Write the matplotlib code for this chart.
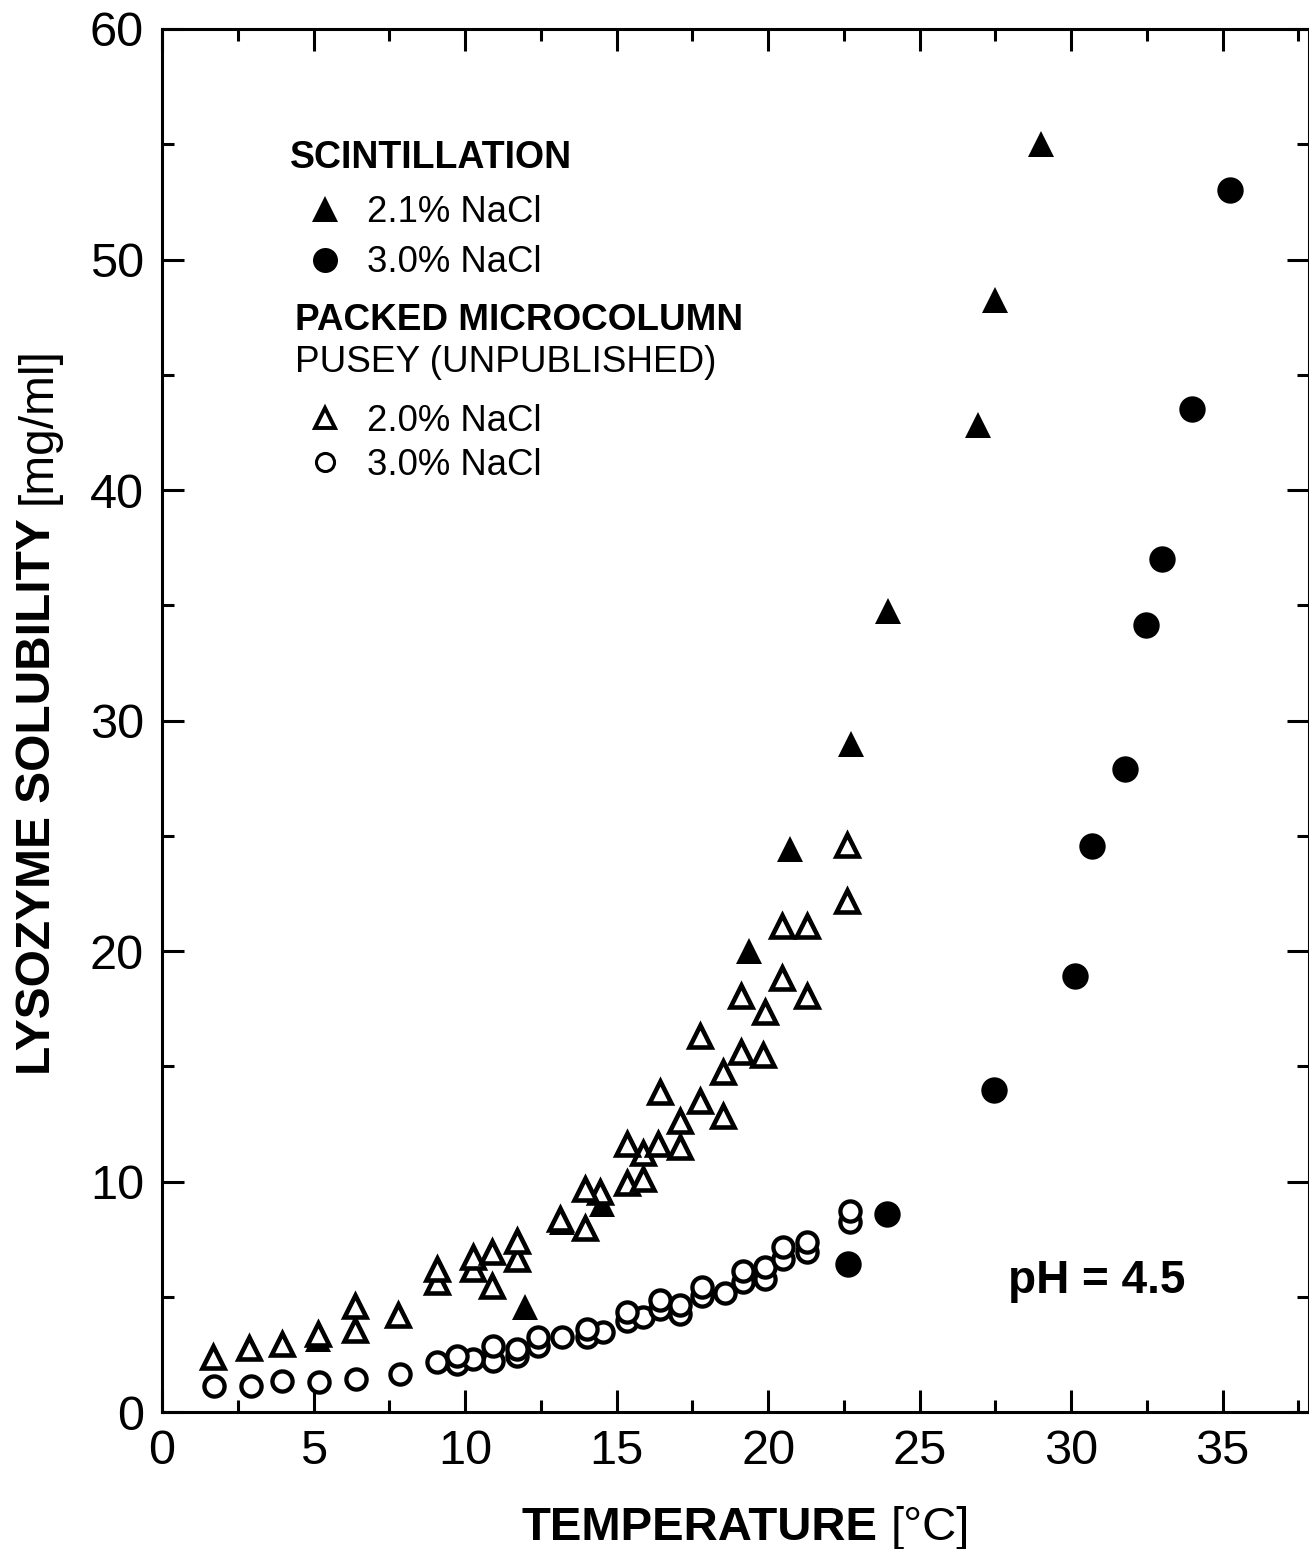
import numpy as np
import matplotlib
matplotlib.use("Agg")
import matplotlib.pyplot as plt
from matplotlib.lines import Line2D
from matplotlib.ticker import MultipleLocator

plt.rcParams["font.family"] = ["Liberation Sans", "DejaVu Sans"]

# scintillation, 2.1% NaCl (filled triangles)
scint21_t = [5.15, 11.98, 13.2, 14.52, 19.37, 20.73, 22.74, 23.96, 26.93, 27.49, 29.0]
scint21_s = [3.17, 4.56, 8.24, 9.02, 20.0, 24.42, 28.98, 34.75, 42.82, 48.24, 55.0]

# scintillation, 3.0% NaCl (filled circles)
scint30_t = [22.64, 23.93, 27.46, 30.13, 30.69, 31.78, 32.48, 33.0, 33.99, 35.25]
scint30_s = [6.42, 8.59, 13.97, 18.92, 24.56, 27.9, 34.14, 37.0, 43.51, 53.0]

# packed microcolumn, 2.0% NaCl (open triangles)
col20_t = [1.68, 2.87, 3.96, 5.15, 6.37, 6.37, 7.79, 9.08, 9.08, 10.26, 10.26,
           10.89, 10.89, 11.72, 11.72, 13.14, 13.96, 13.96, 14.46, 15.35, 15.87,
           16.37, 17.1, 15.35, 15.87, 16.44, 17.76, 18.51, 17.1, 18.51, 17.76,
           19.11, 19.83, 19.11, 19.9, 21.29, 20.46, 20.46, 21.29, 22.61, 22.61]
col20_s = [2.39, 2.78, 2.95, 3.38, 4.6, 3.56, 4.21, 6.2, 5.64, 6.72, 6.2,
           6.94, 5.47, 7.42, 6.64, 8.37, 9.67, 7.98, 9.54, 11.63, 11.24,
           11.63, 11.5, 9.93, 10.1, 13.88, 13.49, 12.84, 12.62, 14.75, 16.31,
           15.62, 15.49, 18.05, 17.35, 18.05, 18.83, 21.08, 21.08, 22.17, 24.6]

# packed microcolumn, 3.0% NaCl (open circles)
col30_t = [1.72, 2.94, 3.96, 5.18, 6.4, 7.85, 9.08, 9.74, 9.74, 10.26, 10.92,
           10.92, 11.72, 11.72, 12.41, 12.41, 13.2, 14.03, 14.03, 14.55, 15.35,
           15.35, 15.87, 16.44, 16.44, 17.1, 17.1, 17.82, 17.82, 18.58, 19.17,
           19.17, 19.9, 19.9, 20.5, 20.5, 21.29, 21.29, 22.7, 22.7]
col30_s = [1.13, 1.13, 1.34, 1.3, 1.43, 1.65, 2.17, 2.43, 2.08, 2.3, 2.86,
           2.21, 2.73, 2.43, 3.25, 2.86, 3.25, 3.6, 3.25, 3.47, 4.34,
           3.95, 4.12, 4.86, 4.47, 4.64, 4.25, 5.42, 5.03, 5.16, 6.12,
           5.64, 6.29, 5.77, 7.16, 6.64, 7.38, 6.94, 8.72, 8.24]

W, H = 1309, 1549


def fx(px):
    return px / W


def fy(py):
    return 1 - py / H


fig = plt.figure(figsize=(W / 100, H / 100), dpi=100)
ax = fig.add_axes([fx(162), fy(1412), fx(1309) - fx(162), fy(29) - fy(1412)])

ax.plot(scint21_t, scint21_s, ls="none", marker="^", ms=19, mfc="black",
        mec="black", mew=0, zorder=2)
ax.plot(scint30_t, scint30_s, ls="none", marker="o", ms=19, mfc="black",
        mec="black", mew=0, zorder=2)

# higher points drawn last so they sit on top, as in the original
o = np.argsort(col20_s)
ax.plot(np.array(col20_t)[o], np.array(col20_s)[o], ls="none", marker="^",
        ms=16, mfc="white", mec="black", mew=3.3, zorder=3)
o = np.argsort(col30_s)
ax.plot(np.array(col30_t)[o], np.array(col30_s)[o], ls="none", marker="o",
        ms=14.5, mfc="white", mec="black", mew=3.1, zorder=3)

ax.set_xlim(0, 37.85)
ax.set_ylim(0, 60)
ax.xaxis.set_major_locator(MultipleLocator(5))
ax.xaxis.set_minor_locator(MultipleLocator(2.5))
ax.yaxis.set_major_locator(MultipleLocator(10))
ax.yaxis.set_minor_locator(MultipleLocator(5))
ax.tick_params(which="both", direction="in", top=True, right=True, width=2.2,
               labelsize=35)
ax.tick_params(which="major", length=16)
ax.tick_params(which="minor", length=8.6)
ax.tick_params(axis="x", pad=12)
ax.tick_params(axis="y", pad=13)
for s in ax.spines.values():
    s.set_linewidth(2.2)

# axis titles: bold name followed by regular unit
xt = fig.text(fx(877), fy(1540), "TEMPERATURE", fontsize=34, weight="bold",
              ha="right", va="baseline")
ax.annotate("[°C]", xy=(1, fy(1540)), xycoords=(xt, "figure fraction"),
            xytext=(10, 0), textcoords="offset points", fontsize=34,
            ha="left", va="baseline")

yt = fig.text(fx(38), fy(1075), "LYSOZYME SOLUBILITY", fontsize=34.5,
              weight="bold", rotation=90, ha="center", va="bottom")
ax.annotate("[mg/ml]", xy=(fx(38), 1), xycoords=("figure fraction", yt),
            xytext=(0, 10), textcoords="offset points", fontsize=34.5,
            rotation=90, ha="center", va="bottom")

# legend
fig.text(fx(290), fy(158), "SCINTILLATION", fontsize=27, weight="bold",
         ha="left", va="center")
fig.text(fx(295), fy(320), "PACKED MICROCOLUMN", fontsize=26.6, weight="bold",
         ha="left", va="center")
fig.text(fx(295), fy(363), "PUSEY (UNPUBLISHED)", fontsize=26.6,
         ha="left", va="center")

h1 = [Line2D([], [], ls="none", marker="^", ms=19, mfc="black", mew=0),
      Line2D([], [], ls="none", marker="o", ms=18, mfc="black", mew=0)]
fig.legend(h1, ["2.1% NaCl", "3.0% NaCl"], loc="upper left",
           bbox_to_anchor=(fx(307), fy(195)), frameon=False,
           fontsize=26.3, handlelength=1.0, handletextpad=0.64,
           borderpad=0, borderaxespad=0, labelspacing=0.42)
h2 = [Line2D([], [], ls="none", marker="^", ms=14, mfc="white", mec="black",
             mew=2.8),
      Line2D([], [], ls="none", marker="o", ms=13, mfc="white", mec="black",
             mew=2.2)]
fig.legend(h2, ["2.0% NaCl", "3.0% NaCl"], loc="upper left",
           bbox_to_anchor=(fx(307), fy(404)), frameon=False,
           fontsize=26.3, handlelength=1.0, handletextpad=0.64,
           borderpad=0, borderaxespad=0, labelspacing=0.25)

fig.text(fx(1097), fy(1281), "pH = 4.5", fontsize=33, weight="bold",
         ha="center", va="center")

fig.savefig("out.png", dpi=100)
